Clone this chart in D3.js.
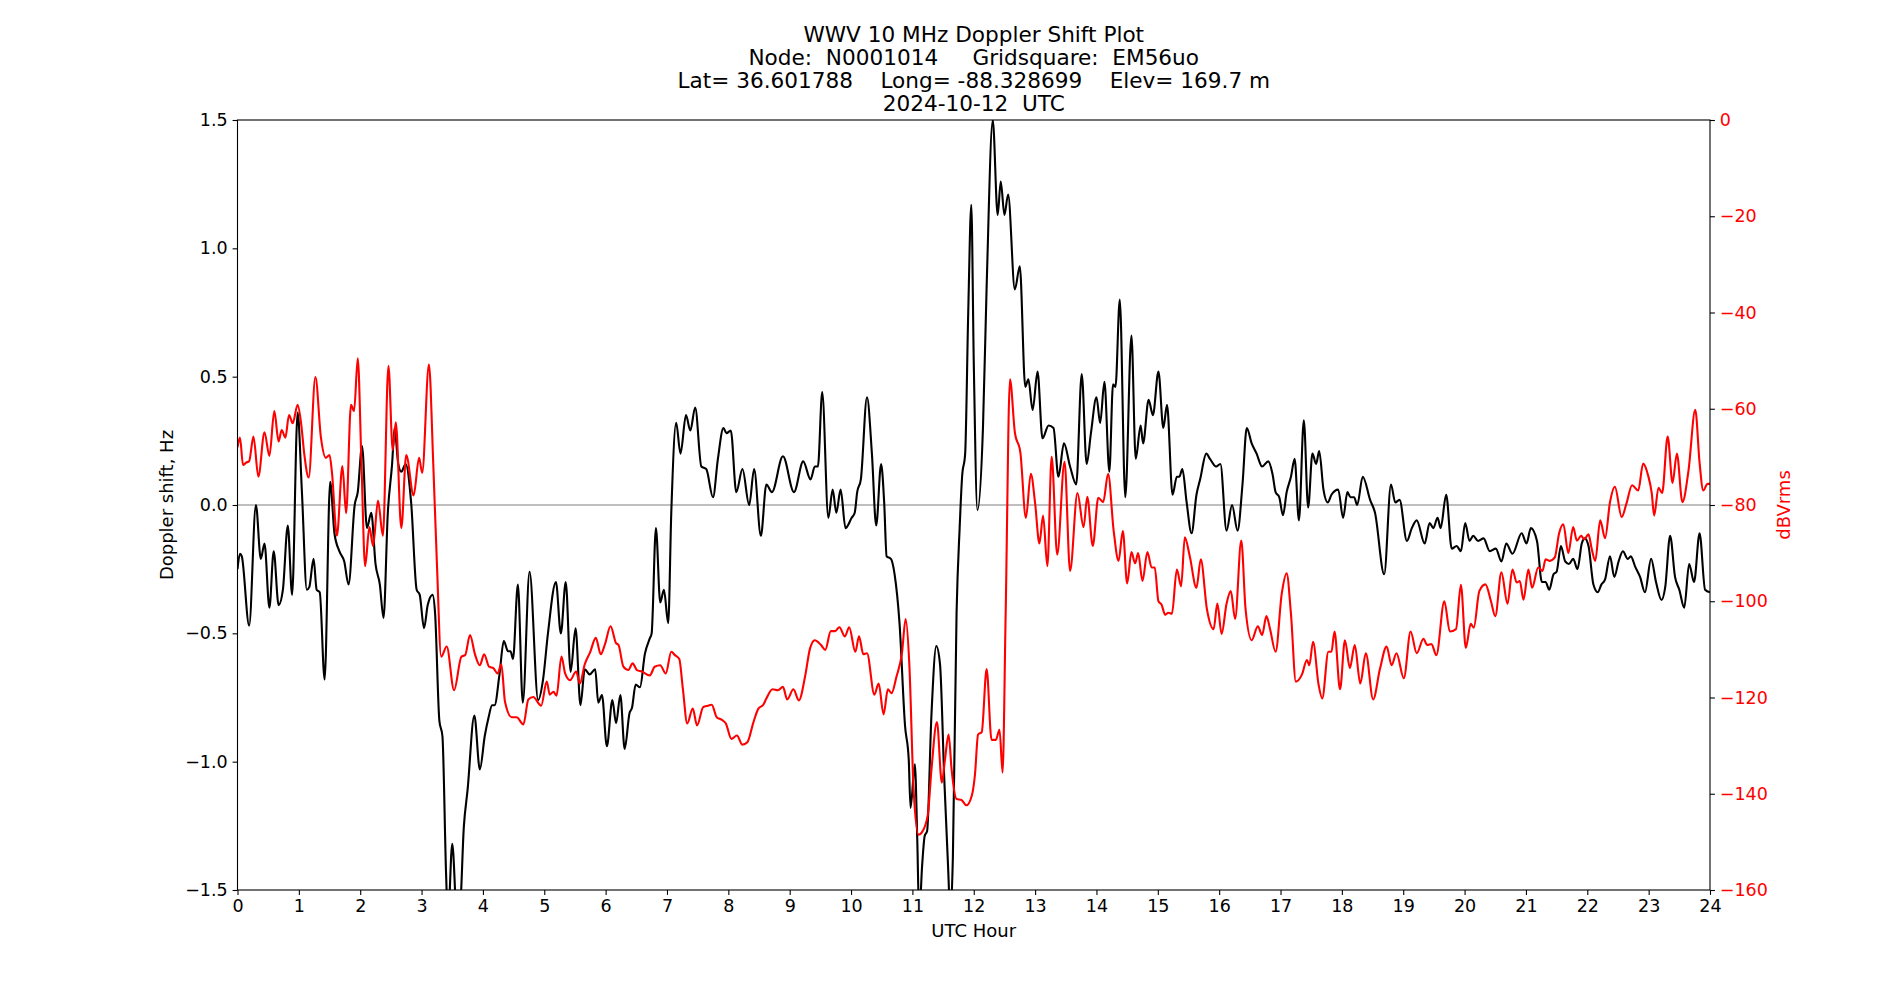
<!DOCTYPE html>
<html>
<head>
<meta charset="utf-8">
<script src="https://cdn.jsdelivr.net/npm/d3@7"></script>
<style>
  body { margin: 0; background: #fff; }
  svg { font-family: "DejaVu Sans", sans-serif; }
</style>
</head>
<body>
<div id="chart"></div>
<script>
// title lines
const titleLines = [
    "WWV 10 MHz Doppler Shift Plot",
    "Node:  N0001014     Gridsquare:  EM56uo",
    "Lat= 36.601788    Long= -88.328699    Elev= 169.7 m",
    "2024-10-12  UTC"
];

const hourTicks = d3.range(0, 25);
const dopplerTicks = [-1.5, -1.0, -0.5, 0.0, 0.5, 1.0, 1.5];
const dbTicks = [0, -20, -40, -60, -80, -100, -120, -140, -160];

// [UTC hour, Doppler shift Hz]
const dopplerData = [
    [0,-0.25],[0.04,-0.19],[0.07,-0.2],[0.19,-0.47],[0.30,0.0],[0.38,-0.21],[0.44,-0.15],[0.52,-0.40],
    [0.59,-0.18],[0.67,-0.39],[0.74,-0.33],[0.82,-0.08],[0.89,-0.35],[0.98,0.36],[1.05,0.05],[1.13,-0.33],
    [1.17,-0.32],[1.24,-0.21],[1.29,-0.33],[1.34,-0.34],[1.42,-0.68],[1.51,0.09],[1.58,-0.11],[1.66,-0.18],
    [1.74,-0.22],[1.81,-0.31],[1.91,0.0],[1.96,0.05],[2.03,0.23],[2.11,-0.09],[2.18,-0.03],[2.25,-0.23],
    [2.32,-0.31],[2.38,-0.44],[2.45,-0.03],[2.52,0.16],[2.56,0.30],[2.62,0.16],[2.67,0.13],[2.74,0.16],
    [2.83,0.01],[2.92,-0.33],[2.97,-0.35],[3.04,-0.48],[3.10,-0.39],[3.18,-0.35],[3.22,-0.42],[3.29,-0.84],
    [3.34,-0.90],[3.40,-1.44],[3.43,-1.62],[3.50,-1.32],[3.58,-1.62],[3.62,-1.6],[3.69,-1.25],[3.75,-1.11],
    [3.86,-0.82],[3.95,-1.03],[4.03,-0.90],[4.09,-0.83],[4.15,-0.78],[4.19,-0.78],[4.27,-0.66],[4.34,-0.53],
    [4.41,-0.57],[4.45,-0.57],[4.49,-0.60],[4.57,-0.31],[4.65,-0.77],[4.76,-0.26],[4.90,-0.76],[4.98,-0.68],
    [5.06,-0.50],[5.19,-0.30],[5.27,-0.50],[5.35,-0.30],[5.43,-0.65],[5.51,-0.48],[5.59,-0.78],[5.66,-0.64],
    [5.74,-0.66],[5.83,-0.64],[5.88,-0.77],[5.94,-0.74],[6.02,-0.94],[6.11,-0.76],[6.17,-0.85],[6.24,-0.74],
    [6.31,-0.95],[6.39,-0.81],[6.43,-0.79],[6.49,-0.70],[6.56,-0.71],[6.64,-0.58],[6.72,-0.52],[6.75,-0.50],
    [6.82,-0.09],[6.89,-0.38],[6.95,-0.33],[7.02,-0.46],[7.07,-0.03],[7.15,0.32],[7.22,0.20],[7.31,0.35],
    [7.38,0.29],[7.46,0.38],[7.56,0.15],[7.64,0.14],[7.75,0.03],[7.83,0.18],[7.92,0.30],[7.97,0.28],
    [8.04,0.29],[8.13,0.05],[8.23,0.14],[8.34,0.0],[8.42,0.14],[8.53,-0.12],[8.62,0.08],[8.71,0.05],
    [8.89,0.19],[9.07,0.05],[9.22,0.17],[9.34,0.10],[9.41,0.15],[9.46,0.15],[9.53,0.44],[9.63,-0.05],
    [9.70,0.06],[9.76,-0.03],[9.83,0.06],[9.91,-0.09],[10.01,-0.05],[10.06,-0.03],[10.10,0.05],[10.16,0.10],
    [10.26,0.42],[10.34,0.20],[10.41,-0.08],[10.49,0.16],[10.54,0.01],[10.58,-0.20],[10.65,-0.21],[10.71,-0.27],
    [10.79,-0.46],[10.88,-0.86],[10.94,-0.99],[10.97,-1.18],[11.04,-1.01],[11.08,-1.31],[11.11,-1.6],[11.16,-1.40],
    [11.20,-1.29],[11.24,-1.27],[11.31,-0.82],[11.39,-0.55],[11.45,-0.62],[11.52,-1.07],[11.58,-1.40],[11.62,-1.6],
    [11.66,-1.37],[11.72,-0.42],[11.77,-0.09],[11.81,0.11],[11.86,0.20],[11.91,0.75],[11.96,1.17],[12.0,0.56],
    [12.06,-0.02],[12.15,0.30],[12.21,0.85],[12.31,1.50],[12.39,1.13],[12.44,1.26],[12.50,1.13],[12.56,1.21],
    [12.67,0.84],[12.75,0.93],[12.84,0.46],[12.89,0.49],[12.96,0.37],[13.04,0.52],[13.12,0.26],[13.22,0.31],
    [13.30,0.30],[13.38,0.11],[13.47,0.24],[13.57,0.15],[13.67,0.08],[13.76,0.51],[13.84,0.16],[13.91,0.28],
    [14.0,0.42],[14.06,0.32],[14.13,0.48],[14.21,0.13],[14.27,0.47],[14.31,0.46],[14.38,0.80],[14.47,0.03],
    [14.57,0.66],[14.64,0.18],[14.72,0.31],[14.76,0.24],[14.85,0.41],[14.92,0.35],[15.01,0.52],[15.09,0.30],
    [15.15,0.39],[15.24,0.04],[15.31,0.11],[15.35,0.11],[15.40,0.14],[15.47,0.01],[15.55,-0.11],[15.63,0.04],
    [15.69,0.10],[15.79,0.20],[15.85,0.18],[15.95,0.15],[16.02,0.16],[16.12,-0.10],[16.21,0.0],[16.30,-0.10],
    [16.38,0.08],[16.45,0.30],[16.53,0.24],[16.61,0.20],[16.70,0.15],[16.80,0.17],[16.87,0.12],[16.92,0.05],
    [16.98,0.03],[17.04,-0.04],[17.10,0.05],[17.17,0.11],[17.23,0.18],[17.30,-0.06],[17.38,0.33],[17.45,-0.01],
    [17.52,0.20],[17.58,0.16],[17.63,0.21],[17.70,0.06],[17.77,0.01],[17.83,0.04],[17.94,0.06],[18.02,-0.05],
    [18.09,0.05],[18.14,0.03],[18.20,0.03],[18.25,0.0],[18.34,0.11],[18.46,0.02],[18.54,-0.03],[18.69,-0.27],
    [18.80,0.08],[18.87,0.01],[18.94,0.02],[19.06,-0.14],[19.14,-0.09],[19.22,-0.06],[19.35,-0.15],[19.43,-0.07],
    [19.49,-0.09],[19.56,-0.05],[19.61,-0.09],[19.70,0.04],[19.79,-0.17],[19.87,-0.16],[19.94,-0.18],[20.01,-0.07],
    [20.08,-0.14],[20.14,-0.12],[20.22,-0.14],[20.31,-0.13],[20.41,-0.18],[20.51,-0.17],[20.60,-0.22],[20.68,-0.15],
    [20.78,-0.19],[20.93,-0.11],[21.01,-0.15],[21.08,-0.09],[21.18,-0.14],[21.26,-0.30],[21.32,-0.30],[21.38,-0.33],
    [21.45,-0.27],[21.50,-0.26],[21.57,-0.16],[21.64,-0.22],[21.70,-0.23],[21.77,-0.21],[21.84,-0.25],[21.91,-0.15],
    [21.96,-0.13],[22.02,-0.16],[22.10,-0.31],[22.17,-0.34],[22.23,-0.31],[22.29,-0.29],[22.37,-0.20],[22.44,-0.28],
    [22.51,-0.22],[22.58,-0.18],[22.66,-0.21],[22.71,-0.20],[22.78,-0.24],[22.86,-0.28],[22.94,-0.34],[23.04,-0.21],
    [23.12,-0.30],[23.21,-0.37],[23.27,-0.32],[23.35,-0.12],[23.43,-0.28],[23.50,-0.33],[23.58,-0.40],[23.66,-0.23],
    [23.74,-0.30],[23.83,-0.11],[23.92,-0.33],[24.0,-0.34]
];

// [UTC hour, signal level dBVrms]
const signalData = [
    [0,-68],[0.04,-66.0],[0.09,-71.7],[0.14,-71.2],[0.19,-70.9],[0.26,-65.8],[0.34,-74.1],[0.44,-64.9],
    [0.52,-69.8],[0.60,-60.5],[0.67,-66.8],[0.72,-64.4],[0.78,-66.0],[0.84,-61.3],[0.90,-63.0],[0.98,-59.2],
    [1.04,-63.4],[1.09,-69.6],[1.16,-74.3],[1.27,-53.4],[1.36,-66.0],[1.44,-70.2],[1.50,-69.6],[1.54,-73.3],
    [1.62,-86.4],[1.71,-71.9],[1.77,-81.7],[1.85,-59.2],[1.90,-60.5],[1.96,-49.5],[2.02,-71.2],[2.08,-92.7],
    [2.15,-84.6],[2.21,-88.5],[2.29,-79.1],[2.37,-86.4],[2.46,-51.1],[2.53,-68.6],[2.58,-62.8],[2.67,-84.8],
    [2.75,-69.6],[2.87,-78.0],[2.96,-70.2],[3.01,-73.3],[3.12,-50.8],[3.19,-71.2],[3.25,-92.1],[3.32,-111.5],
    [3.41,-109.4],[3.53,-118.5],[3.65,-111.5],[3.71,-111.2],[3.79,-107.0],[3.87,-111.0],[3.95,-113.3],[4.02,-111.0],
    [4.10,-113.6],[4.17,-113.9],[4.24,-115.0],[4.30,-113.1],[4.36,-120.9],[4.47,-124.1],[4.55,-124.1],[4.66,-125.6],
    [4.74,-120.4],[4.82,-119.9],[4.95,-121.7],[5.04,-116.7],[5.09,-119.4],[5.15,-118.8],[5.20,-119.6],[5.28,-111.5],
    [5.34,-115.0],[5.42,-116.4],[5.52,-114.6],[5.58,-117.1],[5.66,-113.1],[5.75,-110.5],[5.84,-107.6],[5.92,-111.0],
    [5.99,-108.9],[6.08,-105.2],[6.17,-108.7],[6.21,-109.1],[6.29,-113.6],[6.37,-114.3],[6.44,-112.9],[6.51,-114.3],
    [6.59,-114.6],[6.72,-115.4],[6.80,-113.6],[6.89,-113.3],[6.98,-115.0],[7.07,-110.5],[7.13,-111.2],[7.20,-112.0],
    [7.26,-118.3],[7.33,-125.4],[7.42,-122.3],[7.49,-125.8],[7.59,-122.0],[7.67,-121.7],[7.73,-121.5],[7.81,-124.1],
    [7.89,-124.6],[7.96,-125.4],[8.05,-128.6],[8.14,-127.9],[8.23,-129.8],[8.31,-129.3],[8.41,-125.1],[8.49,-122.3],
    [8.57,-121.5],[8.62,-120.2],[8.72,-118.3],[8.81,-118.5],[8.89,-117.8],[8.96,-120.4],[9.06,-118.3],[9.15,-120.6],
    [9.25,-115.7],[9.33,-109.9],[9.41,-108.1],[9.51,-109.1],[9.58,-110.1],[9.67,-106.2],[9.74,-106.2],[9.81,-105.4],
    [9.90,-107.3],[9.97,-105.4],[10.07,-110.5],[10.13,-107.3],[10.20,-111.0],[10.26,-110.8],[10.38,-119.4],[10.45,-117.1],
    [10.53,-123.5],[10.60,-118.3],[10.66,-119.1],[10.74,-115.7],[10.83,-110.8],[10.89,-103.7],[10.95,-113.1],[11.02,-139.2],
    [11.10,-148.5],[11.15,-148.1],[11.25,-144.5],[11.31,-135.1],[11.40,-125.1],[11.48,-137.7],[11.53,-133.0],[11.59,-127.7],
    [11.64,-135.1],[11.72,-141.1],[11.80,-141.3],[11.88,-142.4],[11.97,-140.3],[12.02,-136.0],[12.07,-127.7],[12.13,-127.2],
    [12.21,-114.1],[12.29,-128.8],[12.36,-128.8],[12.42,-126.7],[12.47,-135.6],[12.52,-102.6],[12.59,-53.9],[12.67,-64.9],
    [12.76,-69.1],[12.85,-82.7],[12.93,-73.5],[13.00,-79.6],[13.07,-88.0],[13.13,-82.2],[13.20,-92.7],[13.27,-70.0],
    [13.36,-90.3],[13.48,-71.0],[13.57,-93.7],[13.69,-77.5],[13.79,-84.6],[13.85,-78.3],[13.94,-88.5],[14.03,-78.5],
    [14.11,-79.4],[14.19,-73.5],[14.28,-85.3],[14.36,-91.6],[14.43,-85.4],[14.50,-96.3],[14.57,-89.8],[14.63,-92.1],
    [14.68,-90.0],[14.75,-95.8],[14.83,-89.8],[14.90,-93.0],[14.95,-93.0],[15.01,-100.0],[15.06,-100.7],[15.12,-102.8],
    [15.17,-102.4],[15.23,-102.6],[15.31,-93.4],[15.38,-96.9],[15.44,-86.7],[15.52,-90.6],[15.63,-97.2],[15.70,-91.3],
    [15.80,-101.6],[15.91,-105.8],[15.97,-100.5],[16.04,-106.8],[16.12,-100.5],[16.19,-97.9],[16.26,-103.7],[16.36,-87.4],
    [16.43,-101.6],[16.53,-108.1],[16.63,-105.2],[16.70,-107.0],[16.77,-103.1],[16.83,-105.8],[16.92,-110.5],[17.02,-98.4],
    [17.10,-94.2],[17.17,-102.6],[17.25,-116.7],[17.35,-115.2],[17.43,-112.2],[17.47,-113.3],[17.53,-108.4],[17.62,-117.3],
    [17.68,-120.2],[17.78,-110.5],[17.83,-110.5],[17.88,-106.3],[17.97,-118.3],[18.05,-108.1],[18.13,-113.9],[18.21,-109.1],
    [18.30,-117.1],[18.39,-110.8],[18.51,-120.4],[18.62,-114.1],[18.73,-109.4],[18.81,-113.3],[18.89,-110.8],[19.01,-116.0],
    [19.12,-106.3],[19.22,-110.8],[19.33,-107.8],[19.39,-109.1],[19.46,-108.9],[19.54,-111.2],[19.67,-100.0],[19.76,-106.3],
    [19.86,-105.8],[19.94,-96.6],[20.02,-109.7],[20.10,-104.7],[20.15,-105.5],[20.24,-97.9],[20.34,-96.5],[20.43,-100.0],
    [20.50,-103.1],[20.60,-94.0],[20.70,-100.5],[20.78,-93.4],[20.85,-96.1],[20.90,-95.8],[20.96,-99.7],[21.04,-93.4],
    [21.10,-97.2],[21.20,-93.0],[21.27,-93.7],[21.32,-91.3],[21.39,-91.6],[21.47,-90.9],[21.54,-85.9],[21.61,-84.0],
    [21.69,-90.0],[21.77,-84.6],[21.83,-87.4],[21.90,-86.4],[21.95,-87.1],[22.02,-86.1],[22.07,-89.0],[22.13,-91.6],
    [22.21,-83.2],[22.29,-86.9],[22.37,-79.4],[22.45,-76.2],[22.56,-82.5],[22.64,-79.6],[22.73,-75.9],[22.83,-77.0],
    [22.91,-71.4],[22.99,-73.8],[23.05,-77.5],[23.09,-82.2],[23.16,-76.4],[23.22,-77.5],[23.31,-65.8],[23.39,-75.4],
    [23.46,-69.3],[23.55,-79.4],[23.65,-72.8],[23.76,-60.2],[23.83,-71.2],[23.89,-77.0],[23.96,-75.6],[24.0,-75.6]
];

const W = 1900, H = 1000;
const margin = { top: 120, right: 190, bottom: 110, left: 237.5 };
const innerW = W - margin.left - margin.right;
const innerH = H - margin.top - margin.bottom;
const tickFont = "17.5px";
const labelFont = "18px";

const svg = d3.select("#chart").append("svg")
    .attr("width", W)
    .attr("height", H);

svg.append("rect").attr("width", W).attr("height", H).attr("fill", "#fff");

const g = svg.append("g").attr("transform", `translate(${margin.left},${margin.top})`);

const x = d3.scaleLinear().domain([0, 24]).range([0, innerW]);
const yHz = d3.scaleLinear().domain([-1.5, 1.5]).range([innerH, 0]);
const yDb = d3.scaleLinear().domain([-160, 0]).range([innerH, 0]);

g.append("clipPath").attr("id", "plot-clip")
    .append("rect").attr("width", innerW).attr("height", innerH);

// zero line
g.append("line")
    .attr("x1", 0).attr("x2", innerW)
    .attr("y1", yHz(0)).attr("y2", yHz(0))
    .attr("stroke", "#808080")
    .attr("stroke-width", 1.1);

const lineHz = d3.line()
    .x(d => x(d[0]))
    .y(d => yHz(d[1]))
    .curve(d3.curveMonotoneX);

const lineDb = d3.line()
    .x(d => x(d[0]))
    .y(d => yDb(d[1]))
    .curve(d3.curveMonotoneX);

const plot = g.append("g").attr("clip-path", "url(#plot-clip)");

plot.append("path")
    .datum(dopplerData)
    .attr("fill", "none")
    .attr("stroke", "#000")
    .attr("stroke-width", 2.1)
    .attr("stroke-linejoin", "round")
    .attr("d", lineHz);

plot.append("path")
    .datum(signalData)
    .attr("fill", "none")
    .attr("stroke", "#ff0000")
    .attr("stroke-width", 2.1)
    .attr("stroke-linejoin", "round")
    .attr("d", lineDb);

// axes
const minus = v => String(v).replace("-", "\u2212");

const xAxis = g.append("g")
    .attr("transform", `translate(0,${innerH})`)
    .call(d3.axisBottom(x).tickValues(hourTicks).tickSizeOuter(0).tickSize(4.9).tickPadding(4.9)
        .tickFormat(d => d));

const yAxisL = g.append("g")
    .call(d3.axisLeft(yHz).tickValues(dopplerTicks).tickSizeOuter(0).tickSize(4.9).tickPadding(4.9)
        .tickFormat(d => minus(d.toFixed(1))));

const yAxisR = g.append("g")
    .attr("transform", `translate(${innerW},0)`)
    .call(d3.axisRight(yDb).tickValues(dbTicks).tickSizeOuter(0).tickSize(4.9).tickPadding(4.9)
        .tickFormat(d => minus(d)));

[xAxis, yAxisL, yAxisR].forEach(a => {
    a.select(".domain").remove();
    a.selectAll(".tick line").attr("stroke", "#000").attr("stroke-width", 1.1);
    a.selectAll(".tick text")
        .attr("fill", "#000")
        .style("font-family", "DejaVu Sans")
        .style("font-size", tickFont);
});
yAxisR.selectAll(".tick text").attr("fill", "#ff0000");

// frame
g.append("rect")
    .attr("width", innerW).attr("height", innerH)
    .attr("fill", "none")
    .attr("stroke", "#000")
    .attr("stroke-width", 1.1);

// axis labels
svg.append("text")
    .attr("x", margin.left + innerW / 2)
    .attr("y", 937)
    .attr("text-anchor", "middle")
    .style("font-size", labelFont)
    .text("UTC Hour");

svg.append("text")
    .attr("transform", `translate(173,${margin.top + innerH / 2}) rotate(-90)`)
    .attr("text-anchor", "middle")
    .style("font-size", labelFont)
    .text("Doppler shift, Hz");

svg.append("text")
    .attr("transform", `translate(1790,${margin.top + innerH / 2}) rotate(-90)`)
    .attr("text-anchor", "middle")
    .attr("fill", "#ff0000")
    .style("font-size", labelFont)
    .text("dBVrms");

// title
svg.append("g").selectAll("text")
    .data(titleLines)
    .enter()
    .append("text")
    .attr("x", margin.left + innerW / 2)
    .attr("y", (d, i) => 41.5 + i * 23.2)
    .attr("text-anchor", "middle")
    .style("font-size", "21.6px")
    .attr("xml:space", "preserve")
    .text(d => d);
</script>
</body>
</html>
